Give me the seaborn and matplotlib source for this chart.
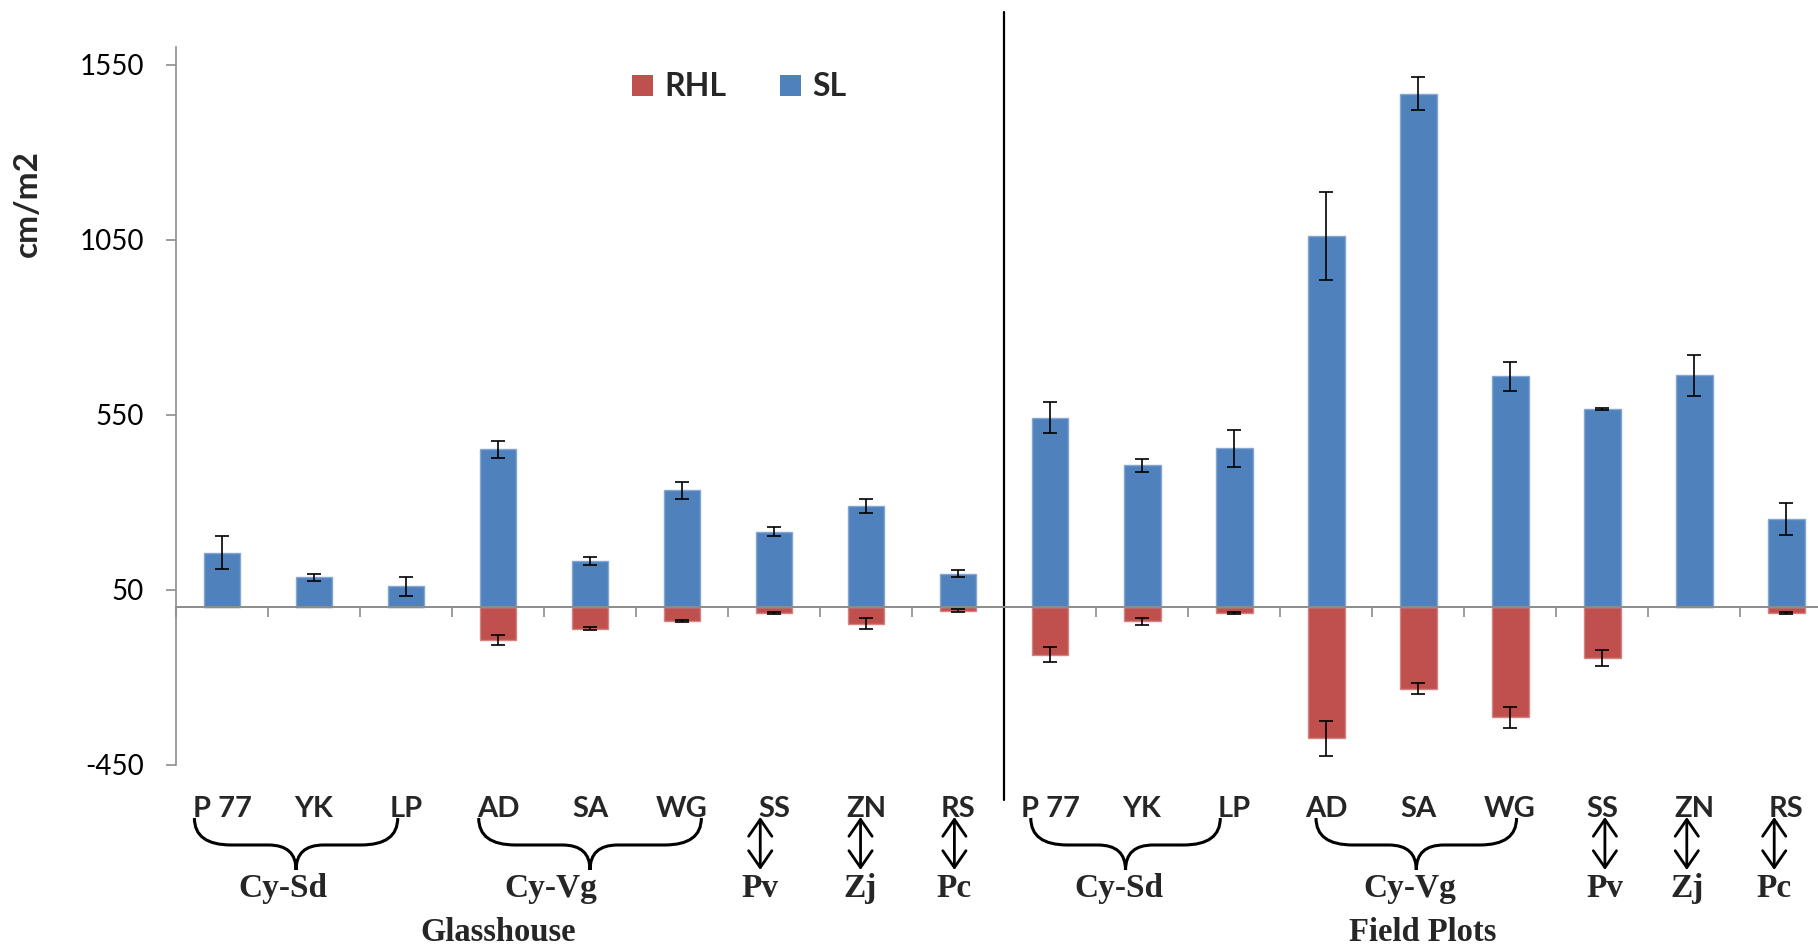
import numpy as np
import pandas as pd
import matplotlib
matplotlib.use("Agg")
import matplotlib.pyplot as plt
import matplotlib.colors as mcolors
import seaborn as sns
from matplotlib.patches import Patch, PathPatch
from matplotlib.path import Path

# ---------------- data ----------------
species = ["P 77", "YK", "LP", "AD", "SA", "WG", "SS", "ZN", "RS"]
settings = ["Glasshouse", "Field Plots"]

sl_glass = [157, 86, 60, 452, 133, 335, 217, 290, 97]
sl_glass_err = [46, 11, 26, 24, 11, 24, 13, 20, 11]
rhl_glass = [0, 0, 0, -93, -61, -39, -16, -46, -9]
rhl_glass_err = [0, 0, 0, 14, 4, 2, 2, 15, 4]

sl_field = [542, 406, 455, 1062, 1468, 660, 567, 663, 253]
sl_field_err = [44, 18, 53, 126, 48, 42, 2, 59, 46]
rhl_field = [-135, -40, -16, -373, -232, -314, -145, 0, -16]
rhl_field_err = [21, 9, 2, 50, 16, 29, 23, 0, 2]

yticks = [-450, 50, 550, 1050, 1550]

# group annotations: label, first index, last index
groups = [("Cy-Sd", 0, 2), ("Cy-Vg", 3, 5), ("Cy-Sd", 9, 11), ("Cy-Vg", 12, 14)]
singles = [("Pv", 6), ("Zj", 7), ("Pc", 8), ("Pv", 15), ("Zj", 16), ("Pc", 17)]

# ---------------- long table ----------------
ids = [f"{s}|{sp}" for s in settings for sp in species]
labels = species + species
sl = np.array(sl_glass + sl_field, dtype=float)
sl_err = np.array(sl_glass_err + sl_field_err, dtype=float)
rhl = np.array(rhl_glass + rhl_field, dtype=float)
rhl_err = np.array(rhl_glass_err + rhl_field_err, dtype=float)

df = pd.DataFrame({
    "id": ids * 2,
    "series": ["RHL"] * len(ids) + ["SL"] * len(ids),
    "value": np.concatenate([rhl, sl]),
})

RED = "#C0504D"
BLUE = "#4F81BD"
GRAY = "#8C8C8C"

sns.set_theme(style="white")
plt.rcParams["font.family"] = ["Lato", "DejaVu Sans"]

fig = plt.figure(figsize=(18.18, 9.47), dpi=100)
ax = fig.add_axes([0.0968, 0.1922, 0.911, 0.7577])

sns.barplot(data=df, x="id", y="value", hue="series", order=ids,
            hue_order=["RHL", "SL"], palette={"RHL": RED, "SL": BLUE},
            dodge=False, width=0.4, saturation=1, errorbar=None,
            legend=False, ax=ax)

# subtle lighter bar outline (Excel style)
for p in ax.patches:
    fc = np.array(mcolors.to_rgb(p.get_facecolor()))
    p.set_edgecolor(tuple(fc + (1 - fc) * 0.3))
    p.set_linewidth(1.0)

xpos = np.asarray(ax.get_xticks(), dtype=float)

m = sl != 0
ax.errorbar(xpos[m], sl[m], yerr=sl_err[m], fmt="none", ecolor="black",
            elinewidth=1.2, capsize=5, capthick=1.2, zorder=5)
m = rhl != 0
ax.errorbar(xpos[m], rhl[m], yerr=rhl_err[m], fmt="none", ecolor="black",
            elinewidth=1.2, capsize=5, capthick=1.2, zorder=5)

ax.set_xlim(-0.5, 17.5)
ax.set_ylim(-450, 1600)
ax.set_xlabel("")
ax.set_ylabel("")

# y axis
ax.set_yticks(yticks)
ax.set_yticklabels([str(v) for v in yticks])
ax.tick_params(axis="y", left=True, length=7, width=1.2, color=GRAY,
               direction="out", labelsize=20, pad=16, labelcolor="black")

# x axis: line at zero with boundary ticks
for s in ["top", "right"]:
    ax.spines[s].set_visible(False)
ax.spines["left"].set_color(GRAY)
ax.spines["left"].set_linewidth(1.2)
ax.spines["bottom"].set_position(("data", 0))
ax.spines["bottom"].set_color(GRAY)
ax.spines["bottom"].set_linewidth(1.4)
ax.spines["bottom"].set_zorder(6)
ax.set_xticks(np.arange(-0.5, 17.6, 1.0))
ax.set_xticklabels([])
ax.tick_params(axis="x", bottom=True, length=7, width=1.2, color=GRAY,
               direction="out")

# category labels at the bottom
sec = ax.secondary_xaxis("bottom")
sec.set_xticks(xpos, labels=labels)
sec.tick_params(length=0, pad=22, labelsize=21)
for t in sec.get_xticklabels():
    t.set_fontweight("bold")
sec.spines["bottom"].set_visible(False)

# separator line
ax.axvline(8.5, ymin=-0.049, ymax=1.05, color="black", lw=1.6, clip_on=False)

# braces and arrows
trans = ax.get_xaxis_transform()
yt, yh, yp = -0.0739, -0.1115, -0.1463
# brace end offsets (relative to first/last category) and label offset
brace_geo = {0: (-0.30, -0.09, -0.14), 3: (-0.21, 0.21, -0.43),
             9: (-0.21, -0.15, -0.07), 12: (-0.11, 0.07, -0.07)}
for name, a, b in groups:
    dl, dr, dlab = brace_geo[a]
    x0 = xpos[a] + dl
    x1 = xpos[b] + dr
    xm = (x0 + x1) / 2
    r, rm = 0.4, 0.3
    verts = [(x0, yt), (x0, yh), (x0 + r, yh), (xm - rm, yh), (xm, yh), (xm, yp),
             (xm, yh), (xm + rm, yh), (x1 - r, yh), (x1, yh), (x1, yt)]
    codes = [Path.MOVETO, Path.CURVE3, Path.CURVE3, Path.LINETO, Path.CURVE3,
             Path.CURVE3, Path.CURVE3, Path.CURVE3, Path.LINETO, Path.CURVE3,
             Path.CURVE3]
    ax.add_patch(PathPatch(Path(verts, codes), transform=trans, fill=False,
                           lw=2.2, edgecolor="black", clip_on=False))
    ax.text(xm + dlab, -0.1728, name, transform=trans, ha="center", va="center",
            family=["Liberation Serif"], fontweight="bold", fontsize=24)

arrow_off = {6: -0.15, 7: -0.06, 8: -0.04, 15: 0.03, 16: -0.08, 17: -0.13}
for name, i in singles:
    xa = xpos[i] + arrow_off[i]
    ax.annotate("", xy=(xa, yp), xytext=(xa, -0.0725), xycoords=trans,
                textcoords=trans, annotation_clip=False,
                arrowprops=dict(arrowstyle="<->,head_length=0.55,head_width=0.38",
                                lw=2, color="black", shrinkA=0, shrinkB=0,
                                mutation_scale=22))
    ax.text(xa, -0.1728, name, transform=trans, ha="center", va="center",
            family=["Liberation Serif"], fontweight="bold", fontsize=24)

ax.text(3.0, -0.2328, "Glasshouse", transform=trans, ha="center", va="center",
        family=["Liberation Serif"], fontweight="bold", fontsize=23.5)
ax.text(13.05, -0.2328, "Field Plots", transform=trans, ha="center", va="center",
        family=["Liberation Serif"], fontweight="bold", fontsize=23.5)

# y label
fig.text(27 / 1818, 1 - 204 / 947, "cm/m2", rotation=90, ha="center",
         va="center", fontsize=24, fontweight="bold")

# legend
handles = [Patch(facecolor=RED, edgecolor="none"), Patch(facecolor=BLUE, edgecolor="none")]
fig.legend(handles, ["RHL", "SL"], ncol=2, frameon=False, loc="center left",
           bbox_to_anchor=(632 / 1818, 1 - 87 / 947), borderpad=0,
           borderaxespad=0, handlelength=0.65, handleheight=0.65,
           handletextpad=0.35, columnspacing=1.7,
           prop={"weight": "bold", "size": 23})

fig.savefig("out.png", dpi=100)
